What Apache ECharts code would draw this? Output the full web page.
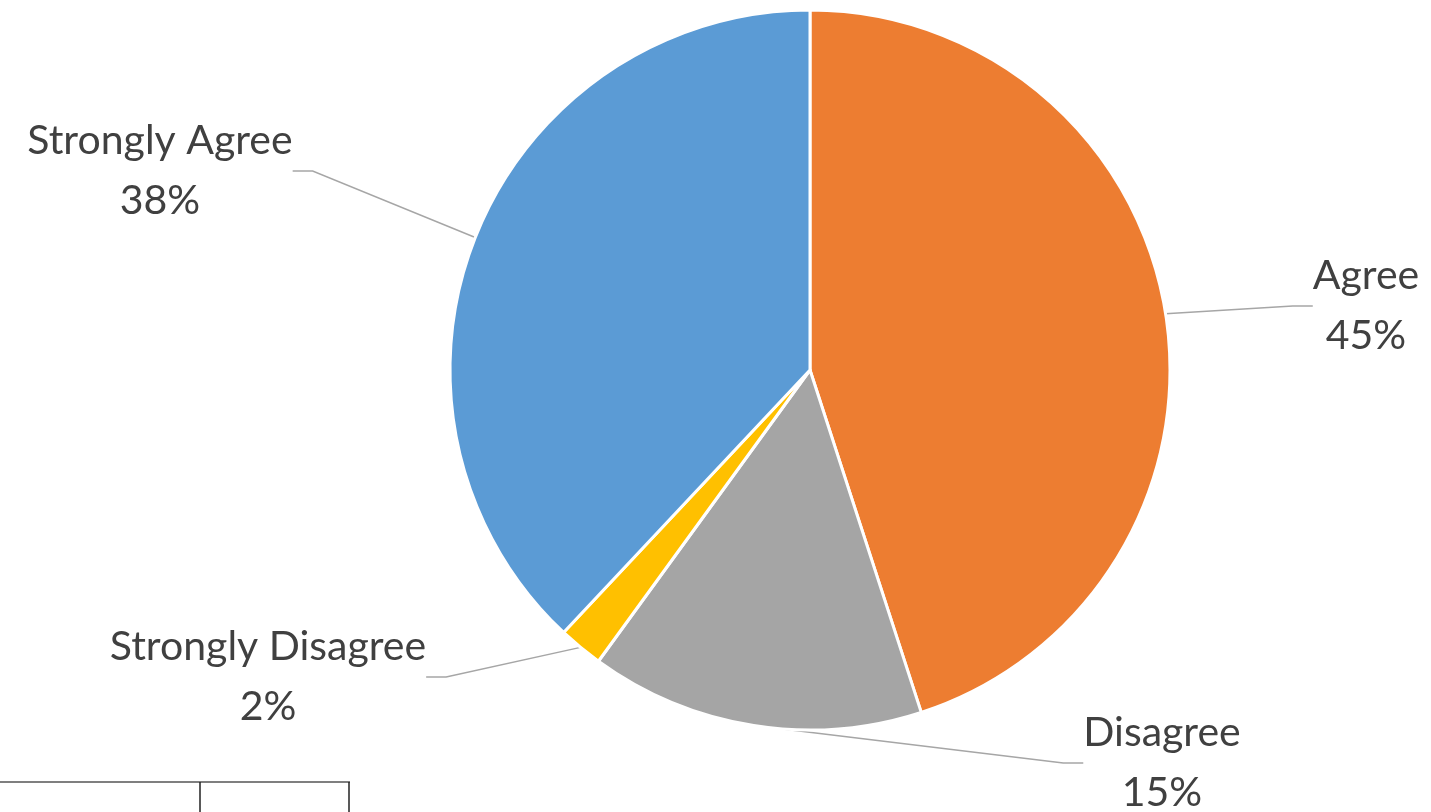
<!DOCTYPE html>
<html>
<head>
<meta charset="utf-8">
<script src="https://cdn.jsdelivr.net/npm/echarts@6/dist/echarts.min.js"></script>
<style>
  html, body { margin: 0; padding: 0; background: #fff; }
  #chart { width: 1431px; height: 812px; }
</style>
</head>
<body>
<div id="chart"></div>
<script>
// survey answers, clockwise from 12 o'clock
const categories = ['Agree', 'Disagree', 'Strongly Disagree', 'Strongly Agree'];
const shares = [45, 15, 2, 38];
const colors = ['#ED7D31', '#A5A5A5', '#FFC000', '#5B9BD5'];

// where each label box is centred (layout only)
const labelCentres = [[1366, 306], [1162, 763], [268, 677], [160, 171]];

let chart = echarts.init(document.getElementById('chart'));
chart.setOption({
    animation: false,
    series: [
        {
            type: 'pie',
            center: [810, 370],
            radius: [0, 360],
            startAngle: 90,
            clockwise: true,
            percentPrecision: 0,
            data: categories.map((name, i) => ({
                name,
                value: shares[i],
                itemStyle: {color: colors[i]}
            })),
            itemStyle: {
                borderColor: '#fff',
                borderWidth: 3
            },
            label: {
                show: true,
                position: 'outside',
                formatter: '{b}\n{d}%',
                fontFamily: 'Lato',
                fontSize: 41,
                lineHeight: 60,
                color: '#404040',
                align: 'center'
            },
            labelLine: {
                show: true,
                length: 20,
                length2: 20,
                lineStyle: {color: '#A6A6A6', width: 1.5}
            },
            labelLayout: params => {
                let c = labelCentres[params.dataIndex];
                return {
                    x: c[0],
                    y: c[1],
                    align: 'center',
                    verticalAlign: 'middle',
                    moveOverlap: false
                };
            }
        }
    ],
    // edge of a table that sits under the chart
    graphic: [
        {type: 'line', shape: {x1: 0, y1: 782, x2: 350, y2: 782}, style: {stroke: '#555', lineWidth: 1.5}},
        {type: 'line', shape: {x1: 200, y1: 782, x2: 200, y2: 812}, style: {stroke: '#222', lineWidth: 1.5}},
        {type: 'line', shape: {x1: 349, y1: 782, x2: 349, y2: 812}, style: {stroke: '#222', lineWidth: 1.5}}
    ]
});
</script>
</body>
</html>
